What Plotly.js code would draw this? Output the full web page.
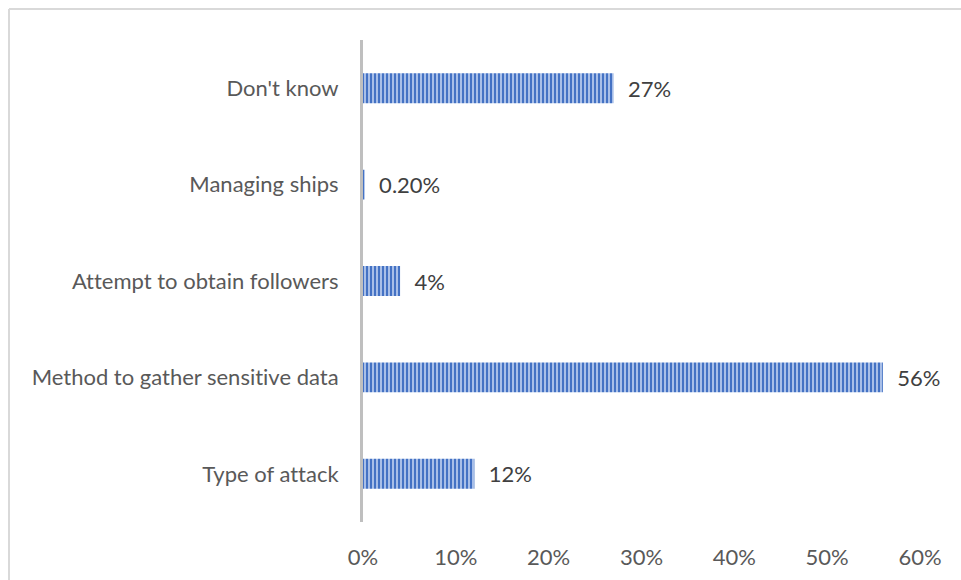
<!DOCTYPE html>
<html>
<head>
<meta charset="utf-8">
<script src="https://cdn.plot.ly/plotly-3.0.1.min.js"></script>
<style>
html,body{margin:0;padding:0;background:#fff;}
#chart{width:961px;height:580px;}
#chart text{font-variant-ligatures:none;font-feature-settings:"liga" 0,"clig" 0;}
</style>
</head>
<body>
<div id="chart"></div>
<script>
const categories = ["Type of attack", "Method to gather sensitive data", "Attempt to obtain followers", "Managing ships", "Don't know"];
const values = [12, 56, 4, 0.2, 27];
const valueLabels = ["12%", "56%", "4%", "0.20%", "27%"];
const xTickVals = [0, 10, 20, 30, 40, 50, 60];
const xTickText = ["0%", "10%", "20%", "30%", "40%", "50%", "60%"];

const W = 961, H = 580;
const M = {l: 363, r: 41, t: 40, b: 58};
const pw = W - M.l - M.r, ph = H - M.t - M.b;
const px = x => (x - M.l) / pw;
const py = y => (H - M.b - y) / ph;

const FONT = "Lato, 'Open Sans', sans-serif";
const FS = 22;
const pad = "\u00a0\u00a0";

const trace = {
  type: "bar",
  orientation: "h",
  y: categories,
  x: values,
  text: valueLabels.map(t => pad + t),
  textposition: "outside",
  cliponaxis: false,
  textfont: {family: FONT, size: FS, color: "#404040"},
  marker: {
    color: "#4472C4",
    line: {width: 0},
    pattern: {shape: "|", bgcolor: "#4472C4", fgcolor: "#b4c8ec", size: 4, solidity: 0.45}
  },
  hoverinfo: "none"
};

const layout = {
  width: W, height: H,
  margin: M,
  paper_bgcolor: "#ffffff",
  plot_bgcolor: "#ffffff",
  showlegend: false,
  bargap: 0.69,
  font: {family: FONT, size: FS, color: "#595959"},
  xaxis: {
    range: [0, 60],
    tickvals: xTickVals,
    ticktext: xTickText,
    showgrid: false,
    zeroline: false,
    showline: false,
    ticks: "",
    ticklabelstandoff: 20,
    tickfont: {family: FONT, size: FS, color: "#595959"},
    fixedrange: true
  },
  yaxis: {
    type: "category",
    categoryorder: "array",
    categoryarray: categories,
    showgrid: false,
    zeroline: false,
    showline: true,
    linecolor: "#bfbfbf",
    linewidth: 3,
    ticks: "",
    ticklabelstandoff: 17,
    tickfont: {family: FONT, size: FS, color: "#595959"},
    fixedrange: true
  },
  shapes: [
    {type: "line", xref: "paper", yref: "paper", x0: px(9), x1: px(962), y0: py(9), y1: py(9), line: {color: "#d9d9d9", width: 2}},
    {type: "line", xref: "paper", yref: "paper", x0: px(9), x1: px(9), y0: py(9), y1: py(582), line: {color: "#d9d9d9", width: 2}}
  ]
};

Plotly.newPlot("chart", [trace], layout, {displayModeBar: false, staticPlot: true});
</script>
</body>
</html>
